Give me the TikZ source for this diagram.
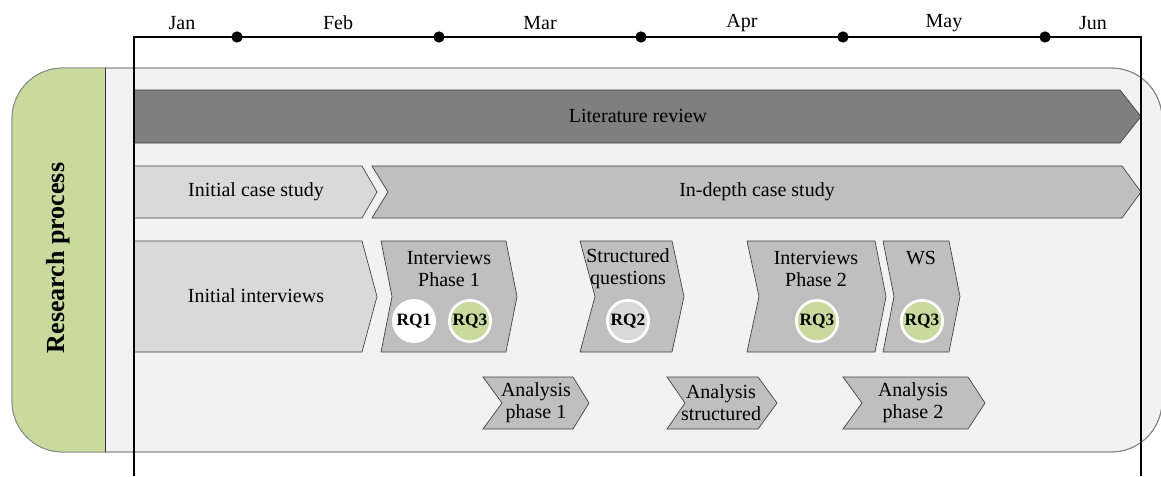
\documentclass[tikz,border=0pt]{standalone}
\usepackage{fontspec}
\setmainfont{Liberation Serif}
\definecolor{panel}{HTML}{F2F2F2}
\definecolor{leaf}{HTML}{C9DA9F}
\definecolor{darkbar}{HTML}{7F7F7F}
\definecolor{midbar}{HTML}{BFBFBF}
\definecolor{lightbar}{HTML}{D9D9D9}
% chevron: style, left x, notch depth, top/bottom right x, tip x, top y, bottom y
\newcommand\chevpath[7]{%
  \filldraw[#1] (#2,#6) -- (#4,#6) -- (#5,{(#6+#7)/2}) -- (#4,#7) -- (#2,#7)
    -- ({#2+#3},{(#6+#7)/2}) -- cycle;}
\begin{document}
\begin{tikzpicture}[x=0.75pt,y=-0.75pt,
  txt/.style={font=\fontsize{15}{16.5}\selectfont, align=center, inner sep=0pt},
  month/.style={font=\fontsize{15}{16}\selectfont, inner sep=0pt},
  edge/.style={draw=black!75, line width=0.5pt},
  rq/.style={circle, draw=white, line width=2pt, minimum size=31pt, inner sep=0pt,
    font=\fontsize{13}{14}\selectfont\bfseries},
  axis/.style={line width=1.6pt, black},
  tick/.style={circle, fill=black, inner sep=0pt, minimum size=8.5pt}]
\useasboundingbox (0,0) rectangle (1161,476);

% process panel
\filldraw[fill=panel, draw=black!50, line width=0.6pt, rounded corners=38pt]
  (12,68) rectangle (1162,452);
\begin{scope}
  \clip (0,0) rectangle (105,476);
  \fill[leaf, rounded corners=38pt] (12,68) rectangle (1162,452);
\end{scope}
\draw[black!50, line width=0.6pt, rounded corners=38pt] (12,68) rectangle (1162,452);
\draw[black!80, line width=0.6pt] (105,68) -- (105,452);
\node[rotate=90, font=\fontsize{19.5}{22}\selectfont\bfseries, inner sep=0pt] (title) at (58,258) {Research process};

% bars
\chevpath{edge, fill=darkbar}{134}{0}{1120}{1141}{90}{143}
\chevpath{edge, fill=lightbar}{134}{0}{362}{377}{166}{218}
\chevpath{edge, fill=midbar}{372}{16}{1122}{1141}{166}{218}
\chevpath{edge, fill=lightbar}{134}{0}{362}{377}{241}{352}
\chevpath{edge, fill=midbar}{381}{11}{506}{517}{241}{352}
\chevpath{edge, fill=midbar}{580}{15}{672}{684}{241}{352}
\chevpath{edge, fill=midbar}{747}{12}{875}{886}{241}{352}
\chevpath{edge, fill=midbar}{883}{11}{949}{960}{241}{352}
\chevpath{edge, fill=midbar}{483}{19}{573}{589}{377}{429}
\chevpath{edge, fill=midbar}{667}{18}{758}{777}{377}{429}
\chevpath{edge, fill=midbar}{843}{19}{968}{985}{377}{429}

% labels
\node[txt] (lit) at (638,116) {Literature review};
\node[txt] (ics) at (256,192) {Initial case study};
\node[txt] (idcs) at (757,192) {In-depth case study};
\node[txt] (ii) at (256,296) {Initial interviews};
\node[txt] (ip1) at (449,269) {Interviews\\Phase 1};
\node[txt] (sq) at (628,269) {Structured\\questions};
\node[txt] (ip2) at (816,269) {Interviews\\Phase 2};
\node[txt] (ws) at (921,258) {WS};
\node[txt] (ap1) at (536,403) {Analysis\\phase 1};
\node[txt] (as) at (721,403) {Analysis\\structured};
\node[txt] (ap2) at (913,403) {Analysis\\phase 2};

% research questions
\node[rq, fill=white] (rq1) at (414,321) {RQ1};
\node[rq, fill=leaf] (rq3a) at (470,321) {RQ3};
\node[rq, fill=lightbar] (rq2) at (628,321) {RQ2};
\node[rq, fill=leaf] (rq3b) at (817,321) {RQ3};
\node[rq, fill=leaf] (rq3c) at (922,321) {RQ3};

% timeline
\coordinate (tl) at (134,476);
\coordinate (tr) at (1141,476);
\draw[axis] (tl) -- (134,37) -- (1141,37) -- (tr);
\foreach \x [count=\i] in {237,439,641,843,1045}
  \node[tick] (d\i) at (\x,37) {};
\node[month] (jan) at (182,23) {Jan};
\node[month] (feb) at (338,23) {Feb};
\node[month] (mar) at (540,23) {Mar};
\node[month] (apr) at (742,23) {Apr};
\node[month] (may) at (944,23) {May};
\node[month] (jun) at (1093,23) {Jun};
\end{tikzpicture}
\end{document}
